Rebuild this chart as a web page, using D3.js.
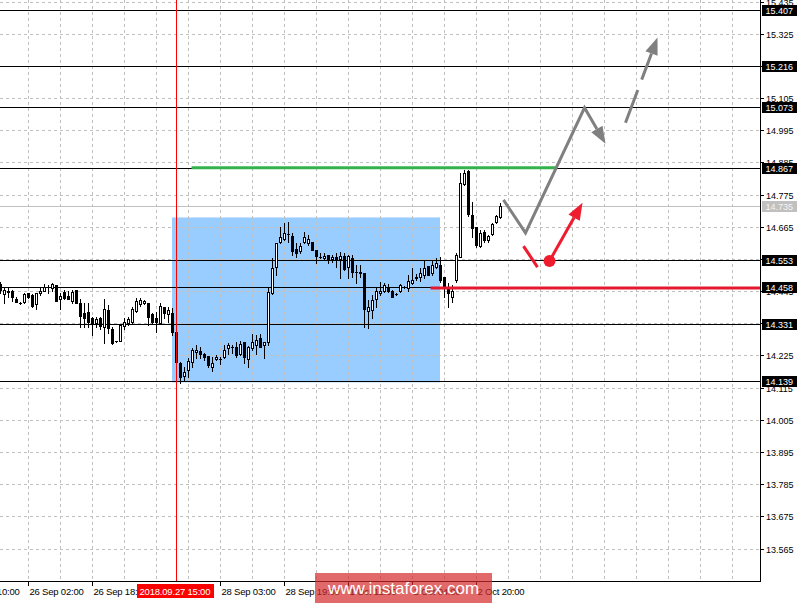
<!DOCTYPE html>
<html>
<head>
<meta charset="utf-8">
<script src="https://cdn.jsdelivr.net/npm/d3@7"></script>
<style>
html, body { margin: 0; padding: 0; background: #fff; overflow: hidden; }
svg { display: block; font-family: "Liberation Sans", Arial, sans-serif; }
</style>
</head>
<body>
<svg width="808" height="603"></svg>
<script>
// H1 candles, one per bar index (bar 44 = 2018.09.27 15:00)
const open = [14.469,14.435,14.442,14.445,14.418,14.404,14.408,14.438,14.431,14.401,
  14.438,14.445,14.459,14.455,14.466,14.418,14.442,14.428,14.411,14.449,
  14.404,14.370,14.373,14.353,14.336,14.353,14.322,14.380,14.315,14.274,
  14.274,14.325,14.336,14.339,14.377,14.401,14.404,14.404,14.366,14.353,
  14.336,14.390,14.366,14.370,14.305,14.199,14.154,14.175,14.202,14.236,
  14.240,14.229,14.223,14.185,14.212,14.212,14.219,14.250,14.253,14.253,
  14.229,14.271,14.212,14.250,14.260,14.284,14.260,14.271,14.438,14.527,
  14.613,14.623,14.640,14.634,14.589,14.582,14.613,14.610,14.613,14.586,
  14.562,14.558,14.568,14.555,14.562,14.555,14.565,14.527,14.558,14.510,
  14.510,14.507,14.377,14.380,14.418,14.438,14.445,14.459,14.445,14.435,
  14.445,14.459,14.455,14.473,14.490,14.493,14.500,14.531,14.507,14.527,
  14.534,14.493,14.455,14.425,14.483,14.562,14.812,14.856,14.705,14.664,
  14.599,14.647,14.620,14.640,14.681,14.699];
const high = [14.476,14.455,14.455,14.449,14.425,14.408,14.438,14.438,14.435,14.438,
  14.455,14.469,14.466,14.473,14.466,14.438,14.449,14.445,14.449,14.449,
  14.418,14.404,14.404,14.356,14.356,14.356,14.418,14.397,14.322,14.276,
  14.329,14.353,14.356,14.390,14.421,14.421,14.414,14.404,14.370,14.373,
  14.404,14.390,14.390,14.387,14.322,14.202,14.185,14.216,14.250,14.260,
  14.253,14.233,14.223,14.219,14.226,14.219,14.260,14.267,14.260,14.271,
  14.274,14.271,14.257,14.298,14.294,14.298,14.271,14.459,14.558,14.610,
  14.664,14.678,14.681,14.644,14.610,14.610,14.647,14.637,14.613,14.586,
  14.575,14.575,14.568,14.568,14.575,14.579,14.575,14.568,14.568,14.534,
  14.534,14.507,14.414,14.431,14.455,14.476,14.473,14.469,14.449,14.438,
  14.469,14.462,14.500,14.524,14.503,14.524,14.551,14.531,14.551,14.558,
  14.562,14.493,14.473,14.466,14.575,14.849,14.860,14.860,14.750,14.664,
  14.654,14.654,14.637,14.678,14.705,14.746];
const low = [14.438,14.404,14.425,14.411,14.408,14.401,14.404,14.421,14.390,14.384,
  14.431,14.445,14.438,14.445,14.411,14.384,14.418,14.418,14.404,14.404,
  14.322,14.322,14.322,14.294,14.322,14.315,14.267,14.301,14.264,14.271,
  14.274,14.315,14.329,14.336,14.373,14.394,14.401,14.329,14.336,14.305,
  14.332,14.353,14.339,14.294,14.202,14.130,14.140,14.151,14.185,14.216,
  14.216,14.209,14.185,14.171,14.209,14.195,14.216,14.229,14.233,14.219,
  14.226,14.199,14.185,14.243,14.229,14.253,14.216,14.260,14.435,14.500,
  14.610,14.620,14.613,14.568,14.562,14.575,14.610,14.603,14.586,14.541,
  14.558,14.555,14.541,14.545,14.527,14.490,14.517,14.490,14.493,14.473,
  14.493,14.322,14.318,14.353,14.390,14.431,14.442,14.442,14.425,14.431,
  14.442,14.455,14.445,14.469,14.483,14.479,14.490,14.500,14.500,14.524,
  14.476,14.425,14.390,14.408,14.476,14.562,14.808,14.702,14.630,14.596,
  14.596,14.613,14.613,14.637,14.678,14.695];
const close = [14.449,14.449,14.445,14.425,14.408,14.404,14.435,14.425,14.394,14.438,
  14.445,14.459,14.458,14.469,14.411,14.428,14.421,14.418,14.442,14.404,
  14.360,14.353,14.339,14.336,14.349,14.325,14.384,14.318,14.267,14.274,
  14.329,14.339,14.349,14.384,14.411,14.414,14.411,14.356,14.339,14.339,
  14.394,14.370,14.380,14.305,14.202,14.151,14.168,14.205,14.243,14.243,
  14.229,14.219,14.192,14.199,14.219,14.212,14.243,14.260,14.253,14.226,
  14.264,14.219,14.253,14.271,14.277,14.253,14.271,14.442,14.524,14.610,
  14.630,14.644,14.641,14.582,14.575,14.599,14.630,14.623,14.586,14.565,
  14.562,14.565,14.551,14.562,14.551,14.565,14.521,14.565,14.510,14.510,
  14.507,14.384,14.390,14.414,14.445,14.445,14.466,14.445,14.425,14.435,
  14.466,14.459,14.479,14.483,14.493,14.507,14.524,14.500,14.534,14.541,
  14.483,14.455,14.438,14.445,14.568,14.815,14.849,14.709,14.661,14.603,
  14.644,14.620,14.634,14.675,14.702,14.735];

// price axis
const yTicks = ["15.435","15.325","15.215","15.105","14.995","14.885","14.775","14.665","14.555",
  "14.445","14.335","14.225","14.115","14.005","13.895","13.785","13.675","13.565"];
const levels = [15.407, 15.216, 15.073, 14.867, 14.553, 14.458, 14.331, 14.139];
const lastPrice = 14.735;

// time axis (the 27 Sep 10:00 label sits under the marker box)
const timeBars = [-9, 7, 23, 55, 71, 87, 103, 119];
const timeLabels = ["25 Sep 10:00","26 Sep 02:00","26 Sep 18:00","28 Sep 03:00",
  "28 Sep 19:00","1 Oct 12:00","2 Oct 04:00","2 Oct 20:00"];
const markerBar = 44, markerLabel = "2018.09.27 15:00";

// drawn objects (bar index, price)
const zoneBars = [43, 110], zonePrices = [14.697, 14.133];
const greenBars = [47.75, 138.75], greenPrice = 14.867;
const redBars = [107.5, 190], redPrice = 14.456;
const grayPath = [[125.75, 14.757], [131.25, 14.644], [146, 15.072], [151.25, 14.949]];
const grayDashed = [[156.25, 15.021], [164.25, 15.312]];
const redTick = [[130.75, 14.599], [134.25, 14.527]];
const redArrow = [[137.25, 14.548], [145.5, 14.747]];

const svg = d3.select("svg");
const W = 760, H = 581;
const x = d3.scaleLinear().domain([0, 190]).range([0.5, 760.5]);
const y = d3.scaleLinear().domain([13.565, 15.407]).range([548.5, 9.8]);
const ry = v => Math.round(y(v)) + 0.5;

svg.append("rect").attr("width", 808).attr("height", 603).attr("fill", "#fff");

// blue zone
svg.append("rect")
  .attr("x", x(zoneBars[0]) - 0.5).attr("y", y(zonePrices[0]))
  .attr("width", x(zoneBars[1]) - x(zoneBars[0])).attr("height", y(zonePrices[1]) - y(zonePrices[0]))
  .attr("fill", "#99ccff");

// grid
const grid = svg.append("g").attr("stroke", "#c0c0c0").attr("stroke-dasharray", "3,3");
grid.selectAll("line.h").data(yTicks).enter().append("line")
  .attr("x1", 0).attr("x2", W).attr("y1", d => ry(+d)).attr("y2", d => ry(+d));
grid.selectAll("line.v").data(d3.range(7, 190, 8)).enter().append("line")
  .attr("x1", d => x(d)).attr("x2", d => x(d)).attr("y1", 0).attr("y2", H);

// last price line and levels
svg.append("line").attr("x1", 0).attr("x2", W).attr("y1", ry(lastPrice)).attr("y2", ry(lastPrice))
  .attr("stroke", "#c0c0c0");
svg.append("g").selectAll("line").data(levels).enter().append("line")
  .attr("x1", 0).attr("x2", W).attr("y1", d => ry(d)).attr("y2", d => ry(d))
  .attr("stroke", "#000");

// candles
const idx = d3.range(open.length);
const cg = svg.append("g");
cg.selectAll("line").data(idx).enter().append("line")
  .attr("x1", i => x(i)).attr("x2", i => x(i))
  .attr("y1", i => Math.round(y(high[i]))).attr("y2", i => Math.round(y(low[i])) + 1)
  .attr("stroke", "#000");
idx.forEach(i => {
  const t = Math.round(y(Math.max(open[i], close[i])));
  const b = Math.round(y(Math.min(open[i], close[i])));
  const cx = x(i) - 0.5;
  if (close[i] > open[i] && b - t >= 2) {
    cg.append("rect").attr("x", cx - 0.5).attr("y", t + 0.5).attr("width", 2).attr("height", b - t)
      .attr("fill", "#fff").attr("stroke", "#000");
  } else {
    cg.append("rect").attr("x", cx - 1).attr("y", t).attr("width", 3).attr("height", Math.max(1, b - t + 1))
      .attr("fill", "#000");
  }
});

// trend lines
svg.append("line").attr("x1", x(greenBars[0])).attr("x2", x(greenBars[1]))
  .attr("y1", y(greenPrice)).attr("y2", y(greenPrice))
  .attr("stroke", "#34b34c").attr("stroke-width", 3);
svg.append("line").attr("x1", x(redBars[0])).attr("x2", x(redBars[1]))
  .attr("y1", y(redPrice)).attr("y2", y(redPrice))
  .attr("stroke", "#e5192d").attr("stroke-width", 3);
svg.append("line").attr("x1", x(markerBar)).attr("x2", x(markerBar)).attr("y1", 0).attr("y2", H)
  .attr("stroke", "#ff0000");

// arrows
const pt = d => [x(d[0]), y(d[1])];
function head(p, q, len, wid) {
  const dx = q[0] - p[0], dy = q[1] - p[1], L = Math.hypot(dx, dy);
  const ux = dx / L, uy = dy / L;
  const bx = q[0] - ux * len, by = q[1] - uy * len;
  return { base: [bx, by], pts: [q, [bx - uy * wid / 2, by + ux * wid / 2], [bx + uy * wid / 2, by - ux * wid / 2]] };
}
function arrow(data, color, dash) {
  const pts = data.map(pt);
  const n = pts.length;
  const h = head(pts[n - 2], pts[n - 1], 17, 13);
  const linePts = pts.slice(0, n - 1).concat([h.base]);
  svg.append("path").attr("d", d3.line()(linePts)).attr("fill", "none")
    .attr("stroke", color).attr("stroke-width", 3).attr("stroke-linejoin", "miter")
    .attr("stroke-dasharray", dash || null);
  svg.append("polygon").attr("points", h.pts.map(p => p.join(",")).join(" ")).attr("fill", color);
}
arrow(grayPath, "#808080");
arrow(grayDashed, "#808080", "35,11");
svg.append("path").attr("d", d3.line()(redTick.map(pt))).attr("stroke", "#ee1c2e").attr("stroke-width", 3);
arrow(redArrow, "#ee1c2e");
svg.append("circle").attr("cx", x(redArrow[0][0])).attr("cy", y(redArrow[0][1])).attr("r", 6)
  .attr("fill", "#ee1c2e");

// axes frame
svg.append("line").attr("x1", W + 0.5).attr("x2", W + 0.5).attr("y1", 0).attr("y2", H + 1).attr("stroke", "#000");
svg.append("line").attr("x1", 0).attr("x2", W + 1).attr("y1", H + 0.5).attr("y2", H + 0.5).attr("stroke", "#000");

// price labels
const ya = svg.append("g").attr("font-size", 9);
ya.selectAll("line").data(yTicks).enter().append("line")
  .attr("x1", W).attr("x2", W + 4).attr("y1", d => ry(+d)).attr("y2", d => ry(+d)).attr("stroke", "#000");
ya.selectAll("text").data(yTicks).enter().append("text")
  .attr("x", 766).attr("y", d => ry(+d) + 3.5).text(d => d);

function priceBox(v, bg, fg) {
  const g = svg.append("g").attr("font-size", 9);
  g.append("rect").attr("x", 762).attr("y", Math.round(y(v)) - 5).attr("width", 35).attr("height", 11).attr("fill", bg);
  g.append("text").attr("x", 765.5).attr("y", Math.round(y(v)) + 4).attr("fill", fg).text(v.toFixed(3));
}
priceBox(lastPrice, "#c0c0c0", "#f4f4f4");
levels.forEach(v => priceBox(v, "#000", "#fff"));

// time labels
const xa = svg.append("g").attr("font-size", 9.5).attr("letter-spacing", -0.2);
xa.selectAll("line").data(timeBars).enter().append("line")
  .attr("x1", d => x(d)).attr("x2", d => x(d)).attr("y1", H).attr("y2", H + 5).attr("stroke", "#000");
xa.selectAll("text").data(timeBars).enter().append("text")
  .attr("x", d => x(d) + 1).attr("y", 595).text((d, i) => timeLabels[i]);
svg.append("rect").attr("x", 137).attr("y", 584).attr("width", 77).attr("height", 14).attr("fill", "#ff0000");
svg.append("text").attr("x", 139.5).attr("y", 595).attr("font-size", 9.5).attr("letter-spacing", -0.2)
  .attr("fill", "#fff").text(markerLabel);

// watermark
svg.append("rect").attr("x", 315).attr("y", 573).attr("width", 177).attr("height", 30)
  .attr("fill", "#d42a2a").attr("opacity", 0.7);
svg.append("text").attr("x", 403.5).attr("y", 594).attr("text-anchor", "middle")
  .attr("font-size", 17).attr("fill", "#fff").text("www.instaforex.com");
</script>
</body>
</html>
